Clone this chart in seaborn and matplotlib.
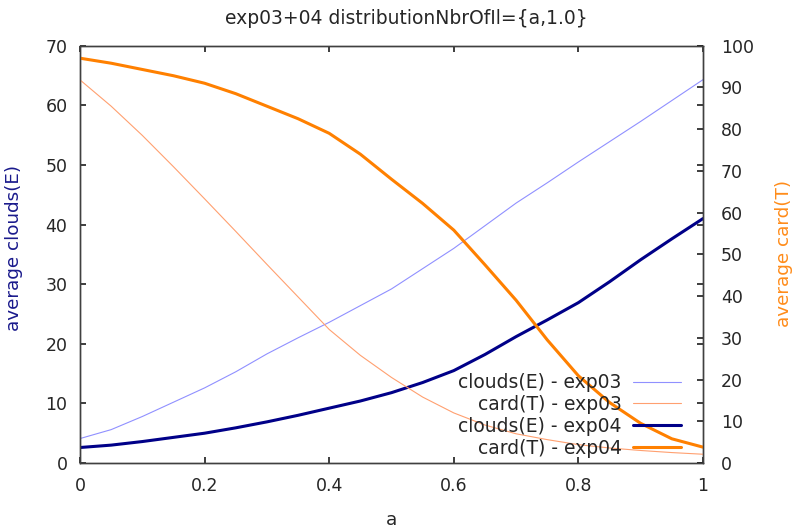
import seaborn as sns
import pandas as pd
import numpy as np
import matplotlib.pyplot as plt

# values
a_vals = [0.0, 0.05, 0.1, 0.15, 0.2, 0.25, 0.3, 0.35, 0.4, 0.45, 0.5,
          0.55, 0.6, 0.65, 0.7, 0.75, 0.8, 0.85, 0.9, 0.95, 1.0]
clouds_exp03 = [4.1, 5.6, 7.8, 10.2, 12.6, 15.3, 18.3, 21.0, 23.6, 26.4, 29.2,
                32.6, 36.0, 39.8, 43.6, 47.0, 50.5, 53.9, 57.3, 60.8, 64.3]
card_exp03 = [91.8, 85.5, 78.5, 71.0, 63.3, 55.5, 47.6, 39.8, 32.0, 25.8, 20.5,
              15.8, 12.0, 9.1, 7.0, 5.6, 4.4, 3.6, 3.0, 2.5, 2.1]
clouds_exp04 = [2.6, 3.0, 3.6, 4.3, 5.0, 5.9, 6.9, 8.0, 9.2, 10.4, 11.8,
                13.5, 15.5, 18.2, 21.2, 24.0, 26.9, 30.4, 34.1, 37.6, 41.0]
card_exp04 = [97.0, 95.8, 94.3, 92.8, 91.0, 88.5, 85.5, 82.5, 79.0, 74.0, 68.0,
              62.2, 55.8, 47.5, 39.0, 29.5, 20.9, 14.5, 9.5, 5.8, 3.8]

sns.set_theme(style="ticks")
plt.rcParams['font.family'] = ['DejaVu Sans']
plt.rcParams.update({
    'font.size': 13,
    'axes.labelsize': 13.2,
    'xtick.labelsize': 12.5, 'ytick.labelsize': 12.5,
    'xtick.direction': 'in', 'ytick.direction': 'in',
    'xtick.major.size': 4, 'ytick.major.size': 4,
    'axes.edgecolor': '#404040', 'axes.linewidth': 1.0,
})

df = pd.DataFrame({'a': a_vals,
                   'clouds03': clouds_exp03, 'card03': card_exp03,
                   'clouds04': clouds_exp04, 'card04': card_exp04})

fig = plt.figure(figsize=(7.93, 5.30), dpi=100)
ax = fig.add_axes([0.1009, 0.1264, 0.7856, 0.7874])
ax2 = ax.twinx()

sns.lineplot(data=df, x='a', y='clouds03', ax=ax, color='#9090ff', lw=0.8,
             label='clouds(E) - exp03', legend=False)
sns.lineplot(data=df, x='a', y='card03', ax=ax2, color='#ffa070', lw=0.8,
             label='card(T) - exp03', legend=False)
sns.lineplot(data=df, x='a', y='clouds04', ax=ax, color='#000088', lw=2.2,
             label='clouds(E) - exp04', legend=False)
sns.lineplot(data=df, x='a', y='card04', ax=ax2, color='#ff8000', lw=2.2,
             label='card(T) - exp04', legend=False)

ax.set_xlim(0, 1)
ax.set_ylim(0, 70)
ax2.set_ylim(0, 100)
ax.set_xticks([0, 0.2, 0.4, 0.6, 0.8, 1])
ax.set_xticklabels(['0', '0.2', '0.4', '0.6', '0.8', '1'])
ax.set_yticks(range(0, 71, 10))
ax2.set_yticks(range(0, 101, 10))
ax.tick_params(axis='x', top=True, pad=10)
ax.tick_params(axis='y', right=True, pad=9)
ax2.tick_params(axis='y', pad=13)

ax.set_xlabel('a')
ax.xaxis.set_label_coords(0.5, -0.115)
ax.set_ylabel('average clouds(E)', color='#1a1a8c')
ax.yaxis.set_label_coords(-0.091, 0.515)
ax2.set_ylabel('average card(T)', color='#ff8c1a')
ax2.yaxis.set_label_coords(1.1157, 0.503)

fig.text(0.512, 1 - 18 / 530, 'exp03+04 distributionNbrOfIl={a,1.0}',
         ha='center', va='center', fontsize=13.5)

h1, l1 = ax.get_legend_handles_labels()
h2, l2 = ax2.get_legend_handles_labels()
handles = [h1[0], h2[0], h1[1], h2[1]]
labels = [l1[0], l2[0], l1[1], l2[1]]
ax2.legend(handles, labels, loc='lower right', bbox_to_anchor=(0.9647, 0.013),
           frameon=False, markerfirst=False, borderpad=0, borderaxespad=0,
           handlelength=2.56, handletextpad=0.6, labelspacing=0.15,
           fontsize=13.5)

fig.savefig('out.png', dpi=100)
